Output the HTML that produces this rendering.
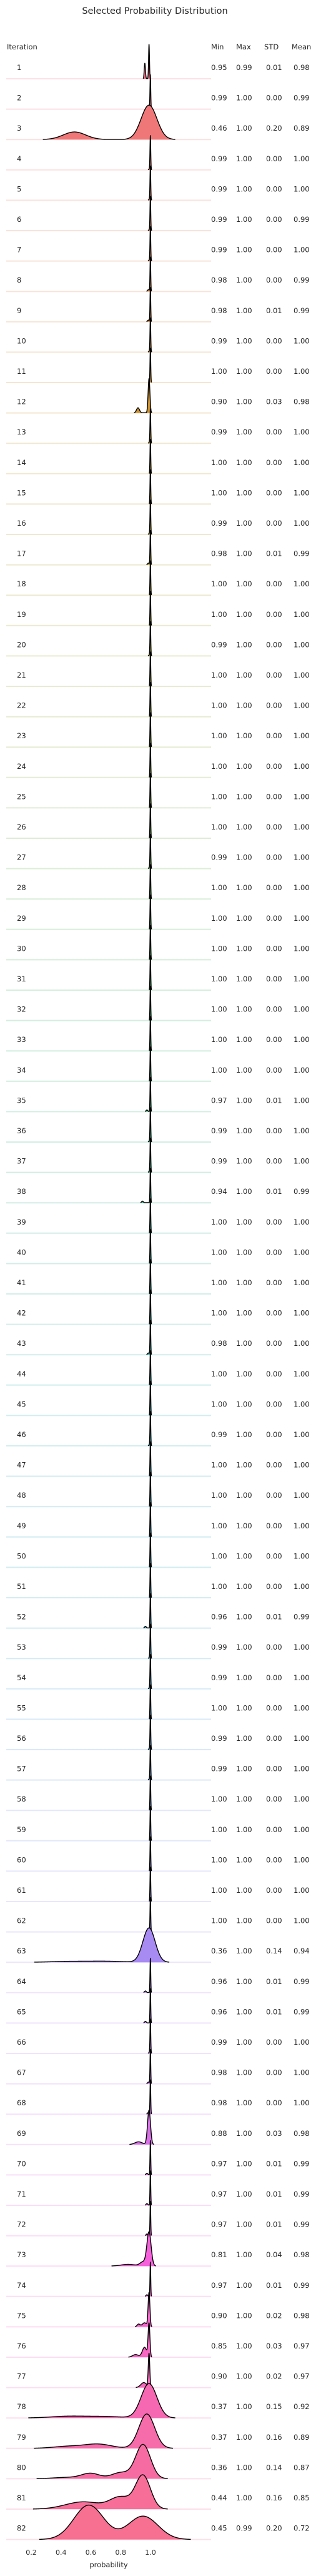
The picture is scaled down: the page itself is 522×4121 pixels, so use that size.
<!DOCTYPE html>
<html><head><meta charset="utf-8">
<style>
html,body{margin:0;padding:0;background:#fff;}
svg{display:block;font-family:"DejaVu Sans","Liberation Sans",sans-serif;}
</style></head>
<body>
<svg id="chart" width="522" height="4121" viewBox="0 0 522 4121" xmlns="http://www.w3.org/2000/svg">
<text x="248" y="22" font-size="14.5" text-anchor="middle" fill="#262626">Selected Probability Distribution</text>
<text x="11" y="79" font-size="11.5" fill="#262626">Iteration</text>
<text x="338" y="79" font-size="11.5" fill="#262626">Min</text>
<text x="378" y="79" font-size="11.5" fill="#262626">Max</text>
<text x="423" y="79" font-size="11.5" fill="#262626">STD</text>
<text x="467" y="79" font-size="11.5" fill="#262626">Mean</text>
<g id="rows"></g>
<g id="xaxis"></g>
<text x="174" y="4107" font-size="11.5" text-anchor="middle" fill="#262626">probability</text>
</svg>
<script>
const mins=[0.95,0.99,0.46,0.99,0.99,0.99,0.99,0.98,0.98,0.99,1.00,0.90,0.99,1.00,1.00,0.99,0.98,1.00,1.00,0.99,1.00,1.00,1.00,1.00,1.00,1.00,0.99,1.00,1.00,1.00,1.00,1.00,1.00,1.00,0.97,0.99,0.99,0.94,1.00,1.00,1.00,1.00,0.98,1.00,1.00,0.99,1.00,1.00,1.00,1.00,1.00,0.96,0.99,0.99,1.00,0.99,0.99,1.00,1.00,1.00,1.00,1.00,0.36,0.96,0.96,0.99,0.98,0.98,0.88,0.97,0.97,0.97,0.81,0.97,0.90,0.85,0.90,0.37,0.37,0.36,0.44,0.45];
const maxs=[0.99,1.00,1.00,1.00,1.00,1.00,1.00,1.00,1.00,1.00,1.00,1.00,1.00,1.00,1.00,1.00,1.00,1.00,1.00,1.00,1.00,1.00,1.00,1.00,1.00,1.00,1.00,1.00,1.00,1.00,1.00,1.00,1.00,1.00,1.00,1.00,1.00,1.00,1.00,1.00,1.00,1.00,1.00,1.00,1.00,1.00,1.00,1.00,1.00,1.00,1.00,1.00,1.00,1.00,1.00,1.00,1.00,1.00,1.00,1.00,1.00,1.00,1.00,1.00,1.00,1.00,1.00,1.00,1.00,1.00,1.00,1.00,1.00,1.00,1.00,1.00,1.00,1.00,1.00,1.00,1.00,0.99];
const stds=[0.01,0.00,0.20,0.00,0.00,0.00,0.00,0.00,0.01,0.00,0.00,0.03,0.00,0.00,0.00,0.00,0.01,0.00,0.00,0.00,0.00,0.00,0.00,0.00,0.00,0.00,0.00,0.00,0.00,0.00,0.00,0.00,0.00,0.00,0.01,0.00,0.00,0.01,0.00,0.00,0.00,0.00,0.00,0.00,0.00,0.00,0.00,0.00,0.00,0.00,0.00,0.01,0.00,0.00,0.00,0.00,0.00,0.00,0.00,0.00,0.00,0.00,0.14,0.01,0.01,0.00,0.00,0.00,0.03,0.01,0.01,0.01,0.04,0.01,0.02,0.03,0.02,0.15,0.16,0.14,0.16,0.20];
const means=[0.98,0.99,0.89,1.00,1.00,0.99,1.00,0.99,0.99,1.00,1.00,0.98,1.00,1.00,1.00,1.00,0.99,1.00,1.00,1.00,1.00,1.00,1.00,1.00,1.00,1.00,1.00,1.00,1.00,1.00,1.00,1.00,1.00,1.00,1.00,1.00,1.00,0.99,1.00,1.00,1.00,1.00,1.00,1.00,1.00,1.00,1.00,1.00,1.00,1.00,1.00,0.99,1.00,1.00,1.00,1.00,1.00,1.00,1.00,1.00,1.00,1.00,0.94,0.99,0.99,1.00,1.00,1.00,0.98,0.99,0.99,0.99,0.98,0.99,0.98,0.97,0.97,0.92,0.89,0.87,0.85,0.72];
// density shape components [center, sd, relative height] for rows with visible structure
const shapes={
 1:[[0.962,0.004,0.45],[0.99,0.003,1]],
 3:[[0.99,0.053,1],[0.49,0.075,0.22]],
 12:[[0.99,0.006,1],[0.916,0.01,0.15]],
 63:[[0.99,0.041,1],[0.45,0.12,0.025],[0.7,0.12,0.03]],
 69:[[0.99,0.01,1],[0.92,0.025,0.08]],
 73:[[0.99,0.014,1],[0.85,0.05,0.05],[0.95,0.02,0.12]],
 75:[[0.99,0.006,1],[0.92,0.01,0.08],[0.96,0.015,0.12]],
 76:[[0.99,0.006,1],[0.96,0.015,0.3],[0.9,0.02,0.08]],
 77:[[0.99,0.005,1],[0.955,0.02,0.15]],
 78:[[0.99,0.053,1],[0.45,0.12,0.05],[0.7,0.12,0.04]],
 79:[[0.975,0.053,1],[0.45,0.1,0.06],[0.65,0.09,0.12]],
 80:[[0.95,0.05,1],[0.6,0.06,0.15],[0.8,0.06,0.18],[0.45,0.1,0.04]],
 81:[[0.95,0.05,1],[0.8,0.07,0.35],[0.55,0.12,0.22]],
 82:[[0.586,0.1,1],[0.95,0.1,0.68]]
};
const tickVals=[0.2,0.4,0.6,0.8,1.0];
const tickLabels=["0.2","0.4","0.6","0.8","1.0"];

const X0=50, XS=238.75, TOP=126, STEP=48.6, H=55;
const xs=v=>X0+(v-0.2)*XS;
const rowY=i=>TOP+i*STEP;
const anchors=[[247,113,137],[206,144,50],[151,164,49],[50,177,102],[54,173,164],[57,167,208],[164,140,244],[245,97,221],[247,113,137]];
function color(i,n){const f=i/n*8, k=Math.floor(f), t=f-k; const a=anchors[k], b=anchors[k+1];
 return a.map((c,j)=>Math.round(c+(b[j]-c)*t));}
const NS="http://www.w3.org/2000/svg";
const rows=document.getElementById('rows');
function mk(tag,attrs,parent){const e=document.createElementNS(NS,tag);for(const k in attrs)e.setAttribute(k,attrs[k]);parent.appendChild(e);return e;}
const n=mins.length;
for(let i=0;i<n;i++){
 const it=i+1, y=rowY(i), c=color(i,n), col=`rgb(${c.join(',')})`;
 const g=mk('g',{},rows);
 
 
 const base=mk('line',{x1:10,x2:338,y1:y,y2:y,stroke:col,'stroke-opacity':0.22,'stroke-width':2},g);
 
 
 let comps=shapes[it];
 if(!comps){comps=[[Math.min(1.0,maxs[i])-0.001,0.0025,1]]; if(mins[i]<0.995) comps.push([mins[i]+0.006,0.006,0.05]);}
 const dens=v=>comps.reduce((s,p)=>s+p[2]*Math.exp(-0.5*((v-p[0])/p[1])**2),0);
 let mx=0; const pts=[];
 for(let v=-0.2;v<=1.5;v+=0.0005){const d=dens(v);pts.push([v,d]);if(d>mx)mx=d;}
 const vis=pts.filter(p=>p[1]>=0.004*mx);
 if(!vis.length)continue;
 let d='M'+xs(vis[0][0]).toFixed(2)+','+y;
 let line='';
 vis.forEach((p,k)=>{const px=xs(p[0]).toFixed(2), py=(y-p[1]/mx*H).toFixed(2); d+='L'+px+','+py; line+=(k?'L':'M')+px+','+py;});
 d+='L'+xs(vis[vis.length-1][0]).toFixed(2)+','+y+'Z';
 const area=mk('path',{d:d,fill:col},g);
 
 
 const ol=mk('path',{d:line,fill:'none',stroke:'#000','stroke-width':1.4,'stroke-linejoin':'round'},g);
 
 
 const lab=mk('text',{x:27,y:y-14,'font-size':11.5,fill:'#262626'},g); lab.textContent=String(it);
 
 
 const vals=[[338,mins[i]],[378,maxs[i]],[426,stds[i]],[470,means[i]]];
 vals.forEach((vv,k)=>{const t=mk('text',{x:vv[0],y:y-14,'font-size':11.5,fill:'#262626'},g);t.textContent=vv[1].toFixed(2);
  
  });
}
const xa=document.getElementById('xaxis');
tickVals.forEach((v,k)=>{const t=mk('text',{x:xs(v),y:4087,'font-size':11,'text-anchor':'middle',fill:'#262626'},xa);t.textContent=tickLabels[k];
 
 });
</script>
</body></html>
